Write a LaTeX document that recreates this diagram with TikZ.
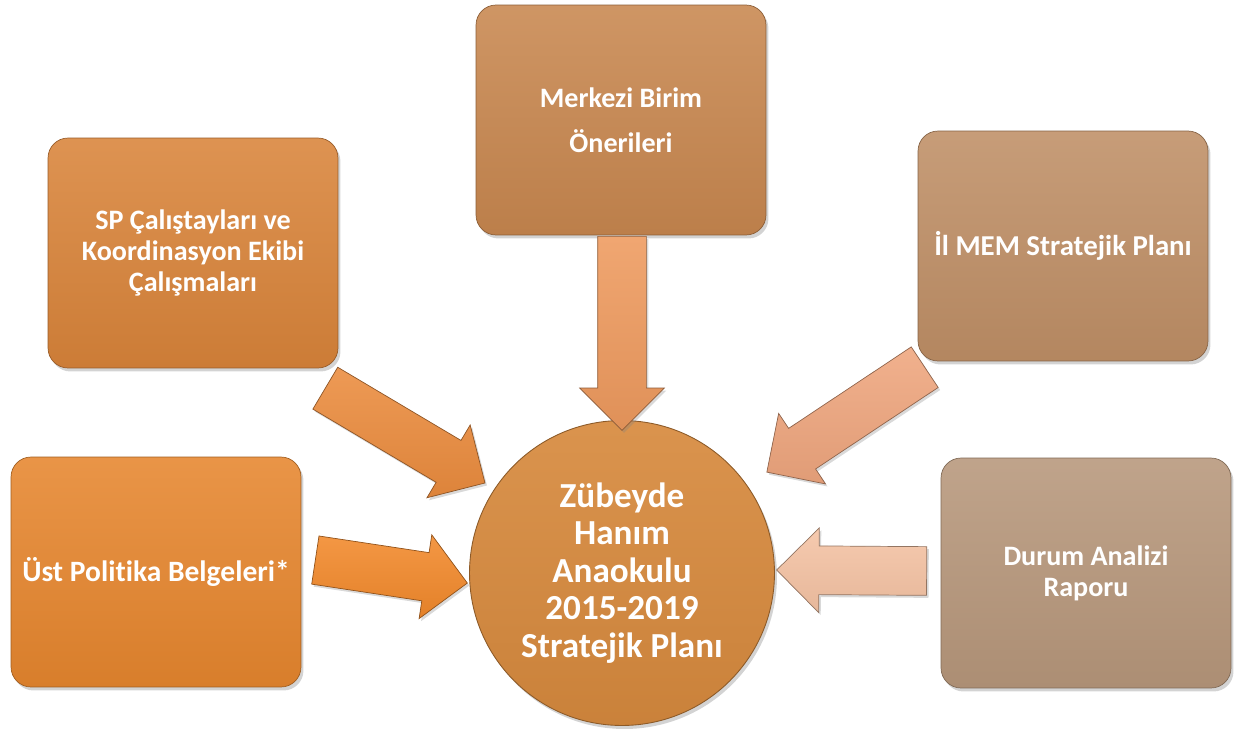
\documentclass[tikz,border=0pt]{standalone}
\usepackage{fontspec}
\setmainfont{Carlito}[Ligatures=NoCommon]
\usetikzlibrary{shapes.arrows, shadows, calc}

\definecolor{spcol}{HTML}{D9843A}
\definecolor{merkcol}{HTML}{C8874F}
\definecolor{ilcol}{HTML}{BF8F66}
\definecolor{ustcol}{HTML}{E6862E}
\definecolor{durcol}{HTML}{B7977B}
\definecolor{plancol}{HTML}{D78A3E}
\definecolor{aspcol}{HTML}{EB8C3E}
\definecolor{austcol}{HTML}{F2892B}
\definecolor{amerkcol}{HTML}{EE9A5E}
\definecolor{ailcol}{HTML}{EFA67E}
\definecolor{adurcol}{HTML}{F5C3A4}

\tikzset{
    srcbox/.style={rectangle, rounded corners=0.4cm, minimum width=5.8cm,
        minimum height=4.6cm, align=center, text=white,
        font=\fontsize{16}{17.6}\selectfont\bfseries,
        top color=#1!88!white, bottom color=#1!94!black, draw=#1!70!black,
        line width=0.4pt,
        drop shadow={shadow xshift=0.05cm, shadow yshift=-0.07cm, opacity=0.35}},
    planbox/.style={circle, minimum size=6.1cm, align=center, text=white,
        font=\fontsize{20}{21.3}\selectfont\bfseries,
        top color=plancol!92!white, bottom color=plancol!94!black,
        draw=plancol!65!black, line width=0.5pt,
        drop shadow={shadow xshift=0.05cm, shadow yshift=-0.07cm, opacity=0.35}},
    fatarrow/.style={single arrow, anchor=tail, inner xsep=0pt, inner ysep=0.48cm,
        single arrow head extend=0.36cm, single arrow tip angle=90,
        minimum width=0pt, top color=#1!88!white, bottom color=#1!94!black,
        draw=#1!60!black, line width=0.4pt,
        drop shadow={shadow xshift=0.04cm, shadow yshift=-0.05cm, opacity=0.3}}
}

% block arrow from tail to tip
\newcommand{\blockarrow}[4]{%
    \path let \p1=($(#3)-(#2)$), \n1={atan2(\y1,\x1)}, \n2={veclen(\x1,\y1)} in
        (#2) node[fatarrow=#4, rotate=\n1, minimum height=\n2] (#1) {};
}

\begin{document}
\begin{tikzpicture}[x=0.02cm, y=-0.02cm]
\useasboundingbox (0,0) rectangle (1238,734);

% source boxes
\node[srcbox=spcol]   (sp)   at (193,253) {SP Çalıştayları ve\\Koordinasyon Ekibi\\Çalışmaları};
\node[srcbox=merkcol] (merk) at (621,120) {Merkezi Birim\\[0.28cm]Önerileri};
\node[srcbox=ilcol, font=\fontsize{16.4}{18}\selectfont\bfseries]
                      (il)   at (1063,246) {İl MEM Stratejik Planı};
\node[srcbox=ustcol, font=\fontsize{16.8}{18}\selectfont\bfseries]
                      (ust)  at (156,572) {Üst Politika Belgeleri*};
\node[srcbox=durcol]  (dur)  at (1086,573) {Durum Analizi\\Raporu};

% plan in the middle
\node[planbox] (plan) at (622,573) {Zübeyde\\Hanım\\Anaokulu\\2015-2019\\Stratejik Planı};

% arrow ends
\coordinate (spTail)   at (325,388);
\coordinate (spTip)    at (485,483);
\coordinate (ustTail)  at (315,560);
\coordinate (ustTip)   at (467,583);
\coordinate (merkTail) at (622,236);
\coordinate (merkTip)  at (622,430);
\coordinate (ilTail)   at (925,367);
\coordinate (ilTip)    at (767,472);
\coordinate (durTail)  at (927,571);
\coordinate (durTip)   at (777,570);

% arrows
\blockarrow{spArrow}{spTail}{spTip}{aspcol}
\blockarrow{ustArrow}{ustTail}{ustTip}{austcol}
\blockarrow{merkArrow}{merkTail}{merkTip}{amerkcol}
\blockarrow{ilArrow}{ilTail}{ilTip}{ailcol}
\blockarrow{durArrow}{durTail}{durTip}{adurcol}
\end{tikzpicture}
\end{document}
